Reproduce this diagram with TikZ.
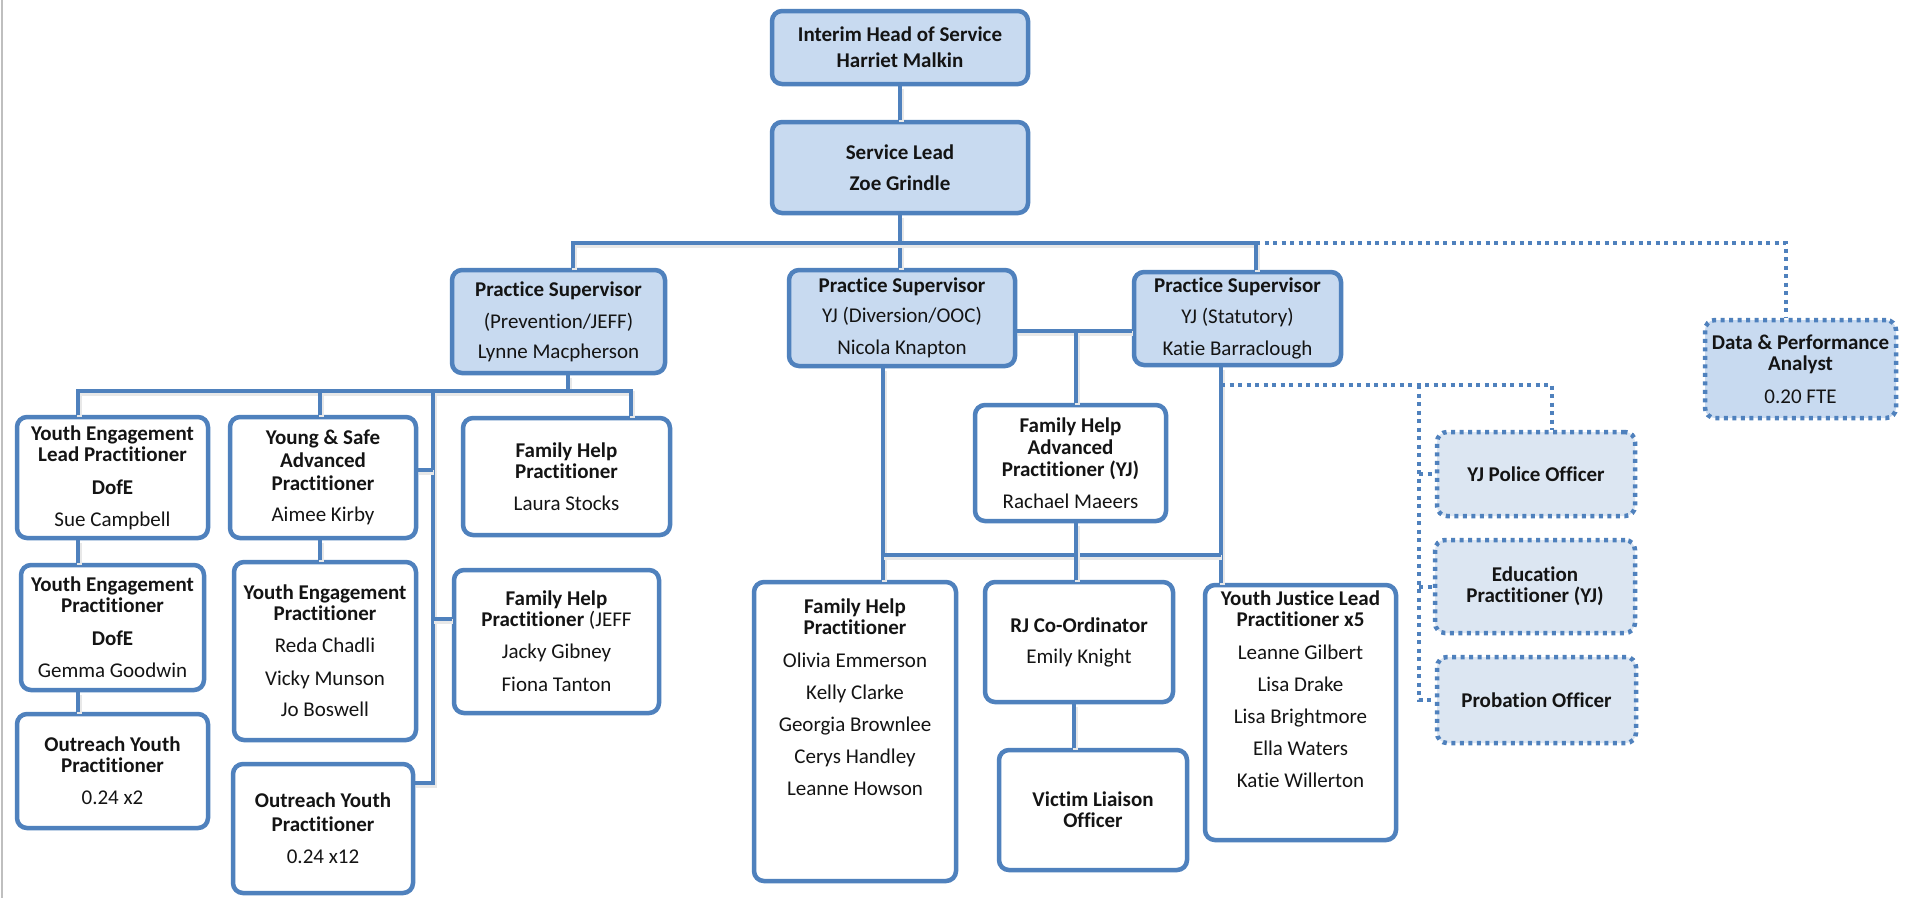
\documentclass[tikz,border=0pt]{standalone}
\usepackage{fontspec}
\setmainfont{Carlito}[Ligatures=NoCommon]
\definecolor{bord}{RGB}{79,129,189}
\definecolor{lfill}{RGB}{200,218,240}
\definecolor{dfill}{RGB}{220,230,242}
\definecolor{txt}{RGB}{20,20,20}
\newcommand\boxfont{\fontsize{21}{21}\selectfont}
\tikzset{
  base/.style={line width=4.5pt, rounded corners=10pt, align=center, inner sep=0pt,
    font=\boxfont, text=txt},
  wbox/.style={base, draw=bord, fill=white},
  bbox/.style={base, draw=bord, fill=lfill},
  dbox/.style={base, draw=bord, fill=dfill, dash pattern=on 4pt off 4.5pt},
  dabox/.style={base, draw=bord, fill=lfill, dash pattern=on 4pt off 4.5pt},
  conn/.style={draw=bord, line width=4pt,
    preaction={draw=black!9, line width=5pt, transform canvas={shift={(1pt,-2.5pt)}}}},
  dotline/.style={draw=bord, line width=4pt, dash pattern=on 4pt off 4.5pt}
}
\begin{document}
\begin{tikzpicture}[x=1pt,y=-1pt]
\useasboundingbox[fill=white] (0,0) rectangle (1912,898);
\draw[black!25, line width=1.5pt] (2,0) -- (2,898);

% ---- boxes ----
\node[bbox, minimum width=256pt, minimum height=73pt] (head) at (900,47.5)
  {\textbf{Interim Head of Service}\\[5pt]\textbf{Harriet Malkin}};
\node[bbox, minimum width=256pt, minimum height=91pt] (sl) at (900,167.5)
  {\textbf{Service Lead}\\[10pt]\textbf{Zoe Grindle}};
\node[bbox, minimum width=213pt, minimum height=103pt] (ps1) at (558.5,321.5)
  {\textbf{Practice Supervisor}\\[11pt](Prevention/JEFF)\\[9pt]Lynne Macpherson};
\node[bbox, minimum width=226pt, minimum height=96pt] (ps2) at (902,318)
  {\textbf{Practice Supervisor}\\[9pt]YJ (Diversion/OOC)\\[11pt]Nicola Knapton};
\node[bbox, minimum width=207pt, minimum height=93pt] (ps3) at (1237.5,318.5)
  {\textbf{Practice Supervisor}\\[10pt]YJ (Statutory)\\[11pt]Katie Barraclough};
\node[dabox, minimum width=191pt, minimum height=98pt] (data) at (1800.5,369)
  {\textbf{Data \& Performance}\\\textbf{Analyst}\\[12pt]0.20 FTE};
\node[dbox, minimum width=198pt, minimum height=84pt] (police) at (1536,474)
  {\textbf{YJ Police Officer}};
\node[dbox, minimum width=200pt, minimum height=93pt] (edu) at (1535,586.5)
  {\textbf{Education}\\\textbf{Practitioner (YJ)}};
\node[dbox, minimum width=199pt, minimum height=86pt] (prob) at (1536.5,700)
  {\textbf{Probation Officer}};
\node[wbox, minimum width=191pt, minimum height=116pt] (fha) at (1070.5,463)
  {\textbf{Family Help}\\[1pt]\textbf{Advanced}\\[1pt]\textbf{Practitioner (YJ)}\\[11pt]Rachael Maeers};
\node[wbox, minimum width=188pt, minimum height=120pt] (rj) at (1079,642)
  {\textbf{RJ Co-Ordinator}\\[10pt]Emily Knight};
\node[wbox, minimum width=188pt, minimum height=120pt] (vlo) at (1093,810)
  {\textbf{Victim Liaison}\\\textbf{Officer}};
\node[wbox, minimum width=191pt, minimum height=255pt, text depth=47pt] (yjl) at (1300.5,712.5)
  {\textbf{Youth Justice Lead}\\\textbf{Practitioner x5}\\[12pt]Leanne Gilbert\\[11pt]Lisa Drake\\[11pt]Lisa Brightmore\\[11pt]Ella Waters\\[11pt]Katie Willerton};
\node[wbox, minimum width=202pt, minimum height=299pt, text depth=69pt] (fhp) at (855,731.5)
  {\textbf{Family Help}\\\textbf{Practitioner}\\[12pt]Olivia Emmerson\\[11pt]Kelly Clarke\\[11pt]Georgia Brownlee\\[11pt]Cerys Handley\\[11pt]Leanne Howson};
\node[wbox, minimum width=207pt, minimum height=117pt] (fhl) at (566.5,476.5)
  {\textbf{Family Help}\\\textbf{Practitioner}\\[11pt]Laura Stocks};
\node[wbox, minimum width=205pt, minimum height=143pt] (fhj) at (556.5,641.5)
  {\textbf{Family Help}\\\textbf{Practitioner} (JEFF\\[11pt]Jacky Gibney\\[12pt]Fiona Tanton};
\node[wbox, minimum width=191pt, minimum height=121pt] (yelp) at (112.5,477.5)
  {\textbf{Youth Engagement}\\\textbf{Lead Practitioner}\\[12pt]\textbf{DofE}\\[11pt]Sue Campbell};
\node[wbox, minimum width=186pt, minimum height=121pt] (ys) at (323,477.5)
  {\textbf{Young \& Safe}\\[2pt]\textbf{Advanced}\\[2pt]\textbf{Practitioner}\\[10pt]Aimee Kirby};
\node[wbox, minimum width=183pt, minimum height=125pt] (yep) at (112.5,627.5)
  {\textbf{Youth Engagement}\\\textbf{Practitioner}\\[12pt]\textbf{DofE}\\[11pt]Gemma Goodwin};
\node[wbox, minimum width=191pt, minimum height=114pt] (or1) at (112.5,771)
  {\textbf{Outreach Youth}\\\textbf{Practitioner}\\[11pt]0.24 x2};
\node[wbox, minimum width=182pt, minimum height=178pt] (yep2) at (325,651)
  {\textbf{Youth Engagement}\\\textbf{Practitioner}\\[11pt]Reda Chadli\\[12pt]Vicky Munson\\[10pt]Jo Boswell};
\node[wbox, minimum width=180pt, minimum height=129pt] (or2) at (323,828.5)
  {\textbf{Outreach Youth}\\[3pt]\textbf{Practitioner}\\[11pt]0.24 x12};

% ---- junction coordinates ----
\coordinate (busL) at (573,243);
\coordinate (busR) at (1256,243);
\coordinate (busD) at (1786,243);
\coordinate (mid) at (1076,331);
\coordinate (lowL) at (883,555);
\coordinate (lowR) at (1221,555);
\coordinate (sub) at (568,391);
\coordinate (subL) at (78,391);
\coordinate (subYS) at (320,391);
\coordinate (subR) at (631,391);
\coordinate (trunk) at (433,391);
\coordinate (dotA) at (1221,385);
\coordinate (dotV) at (1419,385);
\coordinate (dotP) at (1552,385);
\coordinate (rjv) at (1074,704);

% ---- solid connectors ----
\draw[conn] (head.south) -- (sl.north);
\draw[conn] (sl.south) -- (sl.south |- ps2.north);
\draw[conn] (busL |- ps1.north) -- (busL) -- (busR) -- (busR |- ps3.north);
\draw[conn] (mid -| ps2.east) -- (mid -| ps3.west);
\draw[conn] (mid) -- (mid |- fha.north);
\draw[conn] (lowL |- ps2.south) -- (lowL |- fhp.north);
\draw[conn] (lowR |- ps3.south) -- (lowR |- yjl.north);
\draw[conn] (lowL) -- (lowR);
\draw[conn] (mid |- fha.south) -- (mid |- rj.north);
\draw[conn] (rjv |- rj.south) -- (rjv |- vlo.north);
\draw[conn] (sub |- ps1.south) -- (sub);
\draw[conn] (subL |- yelp.north) -- (subL) -- (subR) -- (subR |- fhl.north);
\draw[conn] (subYS) -- (subYS |- ys.north);
\draw[conn] (trunk) -- (trunk |- 0,783) -- (or2.east |- 0,783);
\draw[conn] (trunk |- 0,470) -- (ys.east |- 0,470);
\draw[conn] (trunk |- 0,619) -- (fhj.west |- 0,619);
\draw[conn] (subL |- yelp.south) -- (subL |- yep.north);
\draw[conn] (subL |- yep.south) -- (subL |- or1.north);
\draw[conn] (ys.south -| subYS) -- (yep2.north -| subYS);

% ---- dotted connectors ----
\draw[dotline] (busR) -- (busD) -- (busD |- data.north);
\draw[dotline] (dotA) -- (dotP) -- (dotP |- police.north);
\draw[dotline] (dotV) -- (dotV |- prob.west) -- (prob.west);
\draw[dotline] (dotV |- police.west) -- (police.west);
\draw[dotline] (dotV |- edu.west) -- (edu.west);
\end{tikzpicture}
\end{document}
